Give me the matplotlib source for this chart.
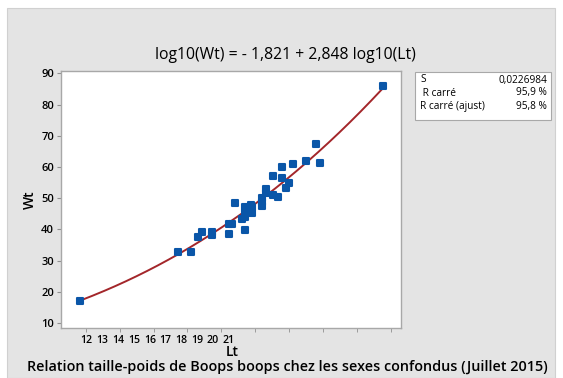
import numpy as np
import matplotlib
matplotlib.use('Agg')
import matplotlib.pyplot as plt
from matplotlib.patches import Rectangle
from matplotlib.markers import MarkerStyle

plt.rcParams['font.family'] = ['Open Sans', 'DejaVu Sans']

# data
lt = [11.83, 14.71, 15.11, 15.31, 15.42, 15.72, 15.72, 16.22, 16.32, 16.22,
      16.40, 16.70, 16.60, 16.70, 16.70, 16.70, 16.82, 16.91, 16.91, 16.88,
      17.19, 17.19, 17.19, 17.31, 17.31, 17.51, 17.68, 17.51, 17.78, 17.78,
      17.92, 18.01, 18.10, 18.50, 18.78, 18.90, 20.78]
wt = [17.1, 32.7, 32.7, 37.7, 39.3, 38.2, 39.1, 41.7, 41.7, 38.6,
      48.4, 39.8, 43.3, 44.1, 45.2, 47.3, 45.7, 47.3, 45.4, 47.8,
      47.5, 48.9, 50.0, 52.9, 51.7, 51.0, 50.4, 57.0, 60.1, 56.4,
      53.3, 54.9, 61.0, 61.9, 67.3, 61.2, 86.0]

# fitted model log10(Wt) = a + b log10(Lt)
a = -1.821
b = 2.848
x_ticks = list(range(12, 22))
y_ticks = [10, 20, 30, 40, 50, 60, 70, 80, 90]
stats_names = ['S', ' R carré', 'R carré (ajust)']
stats_vals = ['0,0226984', '95,9 %', '95,8 %']

fig = plt.figure(figsize=(5.63, 3.78), dpi=100)
fig.patch.set_facecolor('white')
fig.patches.append(Rectangle((7 / 563, 0), 548 / 563, 370 / 378, transform=fig.transFigure,
                             facecolor='#e4e4e4', edgecolor='#d0d0d0', lw=0.8, zorder=-5))

ax = fig.add_axes([61 / 563, 50 / 378, 340 / 563, 257 / 378])
ax.set_facecolor('white')

xx = np.linspace(min(lt), max(lt), 200)
ax.plot(xx, 10 ** (a + b * np.log10(xx)), color='#a3262a', lw=1.4, zorder=2)
rsq = MarkerStyle('s', joinstyle='round')
ax.plot(lt, wt, ls='none', marker=rsq, color='#0a56a8', ms=4.9, mec='#0a56a8', mew=1.5, zorder=3)

ax.set_xlim(11.27, 21.30)
ax.set_ylim(8.4, 90.8)

# tick marks at each integer, labels squeezed together as in the source
ax.set_xticks(x_ticks, minor=True)
ax.tick_params(axis='x', which='minor', length=3, color='#909090')
lab_pos = [12.03 + (k - 12) * 0.465 for k in x_ticks]
ax.set_xticks(lab_pos, [str(k) for k in x_ticks])
ax.tick_params(axis='x', which='major', length=0, pad=5, labelsize=7.6)
ax.set_yticks(y_ticks)
ax.tick_params(axis='y', length=3, color='#909090', labelsize=8, pad=2)
for lab in ax.get_xticklabels() + ax.get_yticklabels():
    lab.set_fontweight('semibold')

for s in ax.spines.values():
    s.set_color('#a8a8a8')
    s.set_linewidth(1.0)

ax.set_xlabel('Lt', fontsize=10, fontweight='semibold')
ax.xaxis.set_label_coords((232 - 61) / 340, -0.065)
ax.set_ylabel('Wt', fontsize=10, fontweight='semibold', labelpad=3)

fig.text(285 / 563, 1 - 55 / 378, 'log10(Wt) = - 1,821 + 2,848 log10(Lt)',
         ha='center', va='center', fontsize=11.3)
fig.text(287 / 563, 1 - 367 / 378,
         'Relation taille-poids de Boops boops chez les sexes confondus (Juillet 2015)',
         ha='center', va='center', fontsize=10.35, fontweight='semibold')

# statistics box
fig.patches.append(Rectangle((415 / 563, 1 - 120 / 378), 136 / 563, 48 / 378,
                             transform=fig.transFigure, facecolor='white',
                             edgecolor='#a8a8a8', lw=0.8, zorder=1))
for i, (nm, v) in enumerate(zip(stats_names, stats_vals)):
    yy = 1 - (80 + 13 * i) / 378
    fig.text(420 / 563, yy, nm, ha='left', va='center', fontsize=7.3)
    fig.text(547 / 563, yy, v, ha='right', va='center', fontsize=7.3)

fig.savefig('out.png', dpi=100)
